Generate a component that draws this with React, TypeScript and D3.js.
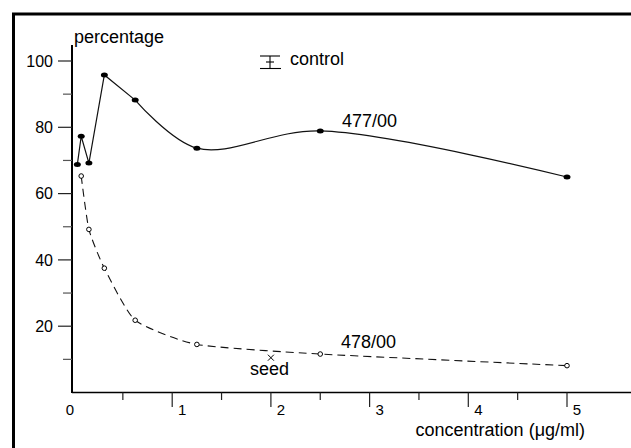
import React, {Component} from "react";
import * as d3 from "d3";

// concentrations (ug/ml), doubling dilutions
const conc477 = [0.039, 0.078, 0.156, 0.3125, 0.625, 1.25, 2.5, 5];
const pct477 = [68.8, 77.3, 69.2, 95.8, 88.2, 73.7, 78.9, 65];
const conc478 = [0.078, 0.156, 0.3125, 0.625, 1.25, 2.5, 5];
const pct478 = [65.3, 49.2, 37.5, 21.8, 14.5, 11.6, 8.1];
const seedPoint = {x: 2.0, y: 10.5};

const xMajor = [1, 2, 3, 4, 5];
const xMinor = [0.5, 1.5, 2.5, 3.5, 4.5];
const yMajor = [20, 40, 60, 80, 100];
const yMinor = [10, 30, 50, 70, 90];
const xTickLabels = ["0", "1", "2", "3", "4", "5"];

const FONT = "'Liberation Sans', Arial, Helvetica, sans-serif";

class App extends Component {
  svgRef = React.createRef<SVGSVGElement>();

  componentDidMount() {
    document.body.style.margin = "0";
    document.body.style.overflow = "hidden";
    const svg = d3.select(this.svgRef.current);
    svg.selectAll("*").remove();

    const x = d3.scaleLinear().domain([0, 5]).range([73.5, 567]);
    const y = d3.scaleLinear().domain([0, 100]).range([392.5, 61]);

    svg.append("rect").attr("width", 631).attr("height", 448).attr("fill", "#fff");

    // outer frame, only top and left edges are inside the picture
    svg.append("path")
      .attr("d", "M13.5,448V14H631")
      .attr("fill", "none").attr("stroke", "#000").attr("stroke-width", 3);

    // axes
    svg.append("line")
      .attr("x1", 72).attr("x2", 72).attr("y1", 45).attr("y2", 393)
      .attr("stroke", "#000").attr("stroke-width", 2);
    svg.append("line")
      .attr("x1", 72).attr("x2", 631).attr("y1", y(0)).attr("y2", y(0))
      .attr("stroke", "#000").attr("stroke-width", 1.5);

    svg.selectAll(".ymaj").data(yMajor).join("line").attr("class", "ymaj")
      .attr("x1", 58).attr("x2", 72)
      .attr("y1", d => y(d)).attr("y2", d => y(d))
      .attr("stroke", "#222").attr("stroke-width", 1.2);
    svg.selectAll(".ymin").data(yMinor).join("line").attr("class", "ymin")
      .attr("x1", 63).attr("x2", 72)
      .attr("y1", d => y(d)).attr("y2", d => y(d))
      .attr("stroke", "#555").attr("stroke-width", 1.2);
    svg.selectAll(".ylab").data(yMajor).join("text").attr("class", "ylab")
      .attr("x", 53).attr("y", d => y(d)).attr("dy", "0.36em")
      .attr("text-anchor", "end")
      .style("font-family", FONT).style("font-size", "16px")
      .text(d => d);

    svg.selectAll(".xmaj").data(xMajor).join("line").attr("class", "xmaj")
      .attr("x1", d => x(d)).attr("x2", d => x(d))
      .attr("y1", y(0)).attr("y2", 407)
      .attr("stroke", "#222").attr("stroke-width", 1.2);
    svg.selectAll(".xmin").data(xMinor).join("line").attr("class", "xmin")
      .attr("x1", d => x(d)).attr("x2", d => x(d))
      .attr("y1", y(0)).attr("y2", 400)
      .attr("stroke", "#222").attr("stroke-width", 1.2);
    svg.selectAll(".xlab").data(xTickLabels).join("text").attr("class", "xlab")
      .attr("x", (d, i) => i === 0 ? x(0) - 3.5 : x(i) + 10)
      .attr("y", 415)
      .attr("text-anchor", "middle")
      .style("font-family", FONT).style("font-size", "15px")
      .text(d => d);

    // axis titles
    svg.append("text").attr("x", 74).attr("y", 43)
      .style("font-family", FONT).style("font-size", "18px")
      .text("percentage");
    svg.append("text").attr("x", 585).attr("y", 436).attr("text-anchor", "end")
      .style("font-family", FONT).style("font-size", "18px")
      .text("concentration (\u03bcg/ml)");

    // control legend
    const lg = svg.append("g").attr("stroke", "#000").attr("stroke-width", 1.1);
    lg.append("line").attr("x1", 260).attr("x2", 280).attr("y1", 56).attr("y2", 56);
    lg.append("line").attr("x1", 260).attr("x2", 281).attr("y1", 68.5).attr("y2", 68.5);
    lg.append("line").attr("x1", 270).attr("x2", 270).attr("y1", 56).attr("y2", 68.5);
    lg.append("line").attr("x1", 266).attr("x2", 274).attr("y1", 62).attr("y2", 62);
    svg.append("text").attr("x", 290).attr("y", 65)
      .style("font-family", FONT).style("font-size", "18px")
      .text("control");

    const straight = d3.line();
    const smooth = d3.line().curve(d3.curveCatmullRom.alpha(0.5));
    const soft = d3.line().curve(d3.curveCardinal.tension(0.45));

    // 477/00 solid: straight zigzag at low doses, smooth afterwards
    const d477 = conc477.map((c, i) => [x(c), y(pct477[i])] as [number, number]);
    svg.append("path")
      .attr("d", straight(d477.slice(0, 5)) + smooth(d477.slice(4)))
      .attr("fill", "none").attr("stroke", "#111").attr("stroke-width", 1.2);
    svg.selectAll(".m477").data(d477).join("ellipse").attr("class", "m477")
      .attr("cx", d => d[0]).attr("cy", d => d[1])
      .attr("rx", 3.5).attr("ry", 2.5).attr("fill", "#000");
    svg.append("text").attr("x", 342).attr("y", 127)
      .style("font-family", FONT).style("font-size", "18px")
      .text("477/00");

    // 478/00 dashed
    const d478 = conc478.map((c, i) => [x(c), y(pct478[i])] as [number, number]);
    svg.append("path")
      .attr("d", soft(d478))
      .attr("fill", "none").attr("stroke", "#111").attr("stroke-width", 1.1)
      .attr("stroke-dasharray", "8,5");
    svg.selectAll(".m478").data(d478).join("circle").attr("class", "m478")
      .attr("cx", d => d[0]).attr("cy", d => d[1])
      .attr("r", 2.3).attr("fill", "#fff").attr("stroke", "#000").attr("stroke-width", 1);
    svg.append("text").attr("x", 341).attr("y", 348)
      .style("font-family", FONT).style("font-size", "18px")
      .text("478/00");

    // seed marker
    const sx = x(seedPoint.x), sy = y(seedPoint.y);
    svg.append("path")
      .attr("d", `M${sx - 3},${sy - 3}L${sx + 3},${sy + 3}M${sx - 3},${sy + 3}L${sx + 3},${sy - 3}`)
      .attr("stroke", "#000").attr("stroke-width", 1);
    svg.append("text").attr("x", 250).attr("y", 375)
      .style("font-family", FONT).style("font-size", "18px")
      .text("seed");
  }

  render() {
    return (
      <svg ref={this.svgRef} width={631} height={448}
        style={{position: "absolute", left: 0, top: 0, display: "block", overflow: "hidden"}} />
    );
  }
}

export default App;
